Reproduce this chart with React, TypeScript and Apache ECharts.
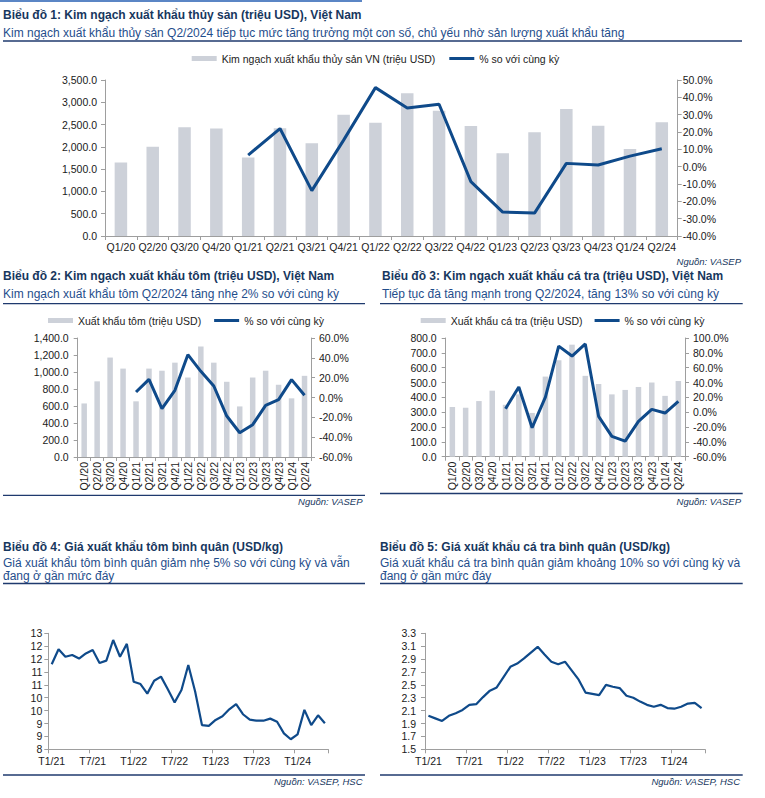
import React, { useEffect, useRef } from "react";
import * as echarts from "echarts";

const FONT = "'Liberation Sans', Arial, Helvetica, sans-serif";

const quarters = ["Q1/20", "Q2/20", "Q3/20", "Q4/20", "Q1/21", "Q2/21", "Q3/21", "Q4/21", "Q1/22", "Q2/22", "Q3/22", "Q4/22", "Q1/23", "Q2/23", "Q3/23", "Q4/23", "Q1/24", "Q2/24"];

const seafoodExport = [1650, 2000, 2440, 2410, 1760, 2420, 2080, 2720, 2540, 3200, 2810, 2470, 1855, 2326, 2849, 2475, 1952, 2551];
const seafoodYoY = [null, null, null, null, 6.7, 22.0, -13.8, 15.3, 45.6, 33.9, 36.0, -8.6, -26.2, -26.8, 1.9, 1.0, 6.1, 10.3];

const shrimpExport = [630, 890, 1170, 1040, 655, 1040, 1015, 1110, 935, 1300, 1110, 885, 595, 935, 1015, 850, 690, 955];
const shrimpYoY = [null, null, null, null, 5.5, 18.3, -11.3, 7.2, 43.2, 26.4, 11.6, -18.7, -35.5, -27.4, -7.9, -2.2, 18.0, 2.2];

const pangasiusExport = [335, 330, 375, 445, 350, 420, 295, 540, 650, 755, 545, 490, 420, 450, 470, 500, 410, 510];
const pangasiusYoY = [null, null, null, null, 4.7, 34.0, -21.0, 20.4, 89.0, 75.7, 92.0, -5.6, -32.6, -38.9, -12.4, 3.8, -1.1, 14.6];

const months = [
  "T1/21", "T2/21", "T3/21", "T4/21", "T5/21", "T6/21", "T7/21", "T8/21", "T9/21", "T10/21", "T11/21", "T12/21",
  "T1/22", "T2/22", "T3/22", "T4/22", "T5/22", "T6/22", "T7/22", "T8/22", "T9/22", "T10/22", "T11/22", "T12/22",
  "T1/23", "T2/23", "T3/23", "T4/23", "T5/23", "T6/23", "T7/23", "T8/23", "T9/23", "T10/23", "T11/23", "T12/23",
  "T1/24", "T2/24", "T3/24", "T4/24", "T5/24",
];

const shrimpPrice = [11.30, 11.88, 11.59, 11.66, 11.52, 11.72, 11.85, 11.35, 11.44, 12.24, 11.59, 12.09, 10.62, 10.53, 10.16, 10.66, 10.82, 10.33, 9.82, 10.30, 11.27, 10.24, 8.94, 8.91, 9.14, 9.28, 9.55, 9.75, 9.36, 9.15, 9.11, 9.11, 9.19, 9.07, 8.62, 8.39, 8.58, 9.53, 8.94, 9.32, 9.01];

const pangasiusPrice = [2.02, 1.98, 1.94, 2.02, 2.06, 2.11, 2.19, 2.20, 2.31, 2.41, 2.46, 2.62, 2.78, 2.83, 2.91, 3.00, 3.09, 2.97, 2.86, 2.82, 2.86, 2.72, 2.58, 2.38, 2.36, 2.34, 2.50, 2.47, 2.45, 2.33, 2.30, 2.24, 2.19, 2.16, 2.19, 2.14, 2.13, 2.16, 2.21, 2.22, 2.14];

const BAR = "#CDD1D9";
const LINE = "#0F4A8A";
const TITLE = "#17375E";
const SUB = "#1F4E8C";
const RULE = "#1F3A6E";
const AXIS = "#9E9E9E";
const LABEL = "#1A1A1A";

const YOY = "% so với cùng kỳ";
const L1 = "Kim ngạch xuất khẩu thủy sản VN (triệu USD)";
const L2 = "Xuất khẩu tôm (triệu USD)";
const L3 = "Xuất khẩu cá tra (triệu USD)";

const txt = (x: number, y: number, text: string, size: number, color: string, weight = "normal", fstyle = "normal", align = "left") => ({
  type: "text",
  x,
  y,
  silent: true,
  style: {
    text,
    fill: color,
    fontSize: size,
    fontWeight: weight,
    fontStyle: fstyle,
    fontFamily: FONT,
    align,
    textAlign: align,
    verticalAlign: "middle",
    textVerticalAlign: "middle",
  },
});

const rule = (x1: number, x2: number, y: number) => ({
  type: "line",
  silent: true,
  shape: { x1, y1: y, x2, y2: y },
  style: { stroke: RULE, lineWidth: 1.3 },
});

const axisLine = { show: true, lineStyle: { color: AXIS, width: 1 } };
const axisTick = { show: true, length: 4, lineStyle: { color: AXIS, width: 1 } };
const lbl = (extra: any = {}) => ({ color: LABEL, fontSize: 10.5, fontFamily: FONT, ...extra });

const thousands = (v: number) => v.toLocaleString("en-US", { minimumFractionDigits: 1, maximumFractionDigits: 1 });
const pct = (v: number) => v.toFixed(1) + "%";

const catX = (gridIndex: number, data: string[], rotate: number) => ({
  type: "category",
  gridIndex,
  data,
  boundaryGap: true,
  axisLine,
  axisTick: { ...axisTick },
  axisLabel: lbl({ interval: 0, rotate, margin: 5 }),
  splitLine: { show: false },
});

const valY = (gridIndex: number, position: string, min: number, max: number, interval: number, fmt: (v: number) => string, margin: number) => ({
  type: "value",
  gridIndex,
  position,
  min,
  max,
  interval,
  axisLine,
  axisTick,
  splitLine: { show: false },
  axisLabel: lbl({ formatter: fmt, margin }),
});

const LINE_ICON = "path://M0 0H25V3H0Z";

const legend = (left: number, top: number, data: string[], gap: number) => ({
  left,
  top,
  padding: 0,
  itemGap: gap,
  itemWidth: 25,
  itemHeight: 5,
  selectedMode: false,
  symbolKeepAspect: true,
  textStyle: { color: "#222", fontSize: 10.5, fontFamily: FONT },
  data: data.map((n) => (n === YOY ? { name: n, icon: LINE_ICON } : { name: n, icon: "rect" })),
});

const option: any = {
  animation: false,
  backgroundColor: "#ffffff",
  textStyle: { fontFamily: FONT },
  grid: [
    { left: 105, top: 80, width: 572.7, height: 156 },
    { left: 77.7, top: 338, width: 233.3, height: 119 },
    { left: 445.7, top: 338, width: 239.3, height: 118.7 },
    { left: 48.3, top: 633.3, width: 280, height: 116 },
    { left: 425, top: 633.3, width: 280, height: 116 },
  ],
  legend: [
    legend(191.7, 53, [L1, YOY], 14),
    legend(48, 315, [L2, YOY], 13),
    legend(420.7, 315, [L3, YOY], 12),
  ],
  xAxis: [
    catX(0, quarters, 0),
    catX(1, quarters, 90),
    catX(2, quarters, 90),
    {
      ...catX(3, months, 0),
      axisTick: { ...axisTick, interval: 5 },
      axisLabel: lbl({ interval: 5, margin: 6 }),
    },
    {
      ...catX(4, months, 0),
      axisTick: { ...axisTick, interval: 5 },
      axisLabel: lbl({ interval: 5, margin: 6 }),
    },
  ],
  yAxis: [
    valY(0, "left", 0, 3500, 500, thousands, 8),
    valY(0, "right", -40, 50, 10, pct, 5),
    valY(1, "left", 0, 1400, 200, thousands, 9),
    valY(1, "right", -60, 60, 20, pct, 8),
    valY(2, "left", 0, 800, 100, thousands, 9),
    valY(2, "right", -60, 100, 20, pct, 8),
    valY(3, "left", 8, 12.5, 0.5, (v: number) => String(Math.round(v)), 6),
    valY(4, "left", 1.5, 3.3, 0.2, (v: number) => v.toFixed(1), 9),
  ],
  series: [
    { name: L1, type: "bar", xAxisIndex: 0, yAxisIndex: 0, data: seafoodExport, barWidth: 12.5, itemStyle: { color: BAR } },
    { name: YOY, type: "line", xAxisIndex: 0, yAxisIndex: 1, data: seafoodYoY, symbol: "none", lineStyle: { color: LINE, width: 3 }, itemStyle: { color: LINE } },
    { name: L2, type: "bar", xAxisIndex: 1, yAxisIndex: 2, data: shrimpExport, barWidth: 5.5, itemStyle: { color: BAR } },
    { name: YOY, type: "line", xAxisIndex: 1, yAxisIndex: 3, data: shrimpYoY, symbol: "none", lineStyle: { color: LINE, width: 3 }, itemStyle: { color: LINE } },
    { name: L3, type: "bar", xAxisIndex: 2, yAxisIndex: 4, data: pangasiusExport, barWidth: 5.5, itemStyle: { color: BAR } },
    { name: YOY, type: "line", xAxisIndex: 2, yAxisIndex: 5, data: pangasiusYoY, symbol: "none", lineStyle: { color: LINE, width: 3 }, itemStyle: { color: LINE } },
    { name: "Giá tôm", type: "line", xAxisIndex: 3, yAxisIndex: 6, data: shrimpPrice, symbol: "none", lineStyle: { color: LINE, width: 2.2 }, itemStyle: { color: LINE } },
    { name: "Giá cá tra", type: "line", xAxisIndex: 4, yAxisIndex: 7, data: pangasiusPrice, symbol: "none", lineStyle: { color: LINE, width: 2.2 }, itemStyle: { color: LINE } },
  ],
  graphic: [
    {
      type: "group",
      silent: true,
      children: [
        { type: "rect", silent: true, shape: { x: 0, y: 0, width: 362, height: 2 }, style: { fill: "#5B86C5" } },
        txt(3, 14.5, "Biểu đồ 1: Kim ngạch xuất khẩu thủy sản (triệu USD), Việt Nam", 12, TITLE, "bold"),
        txt(3, 32.5, "Kim ngạch xuất khẩu thủy sản Q2/2024 tiếp tục mức tăng trưởng một con số, chủ yếu nhờ sản lượng xuất khẩu tăng", 12, SUB),
        rule(3, 742, 41),
        txt(741, 261.5, "Nguồn: VASEP", 9.5, TITLE, "normal", "italic", "right"),

        txt(3, 276, "Biểu đồ 2: Kim ngạch xuất khẩu tôm (triệu USD), Việt Nam", 12, TITLE, "bold"),
        txt(3, 294, "Kim ngạch xuất khẩu tôm Q2/2024 tăng nhẹ 2% so với cùng kỳ", 12, SUB),
        rule(3, 365, 303.7),
        rule(3, 365, 495.3),
        txt(362.5, 501.5, "Nguồn: VASEP", 9.5, TITLE, "normal", "italic", "right"),

        txt(382, 276, "Biểu đồ 3: Kim ngạch xuất khẩu cá tra (triệu USD), Việt Nam", 12, TITLE, "bold"),
        txt(382, 294, "Tiếp tục đà tăng mạnh trong Q2/2024, tăng 13% so với cùng kỳ", 12, SUB),
        rule(380, 742.7, 303.7),
        rule(380, 742.7, 493.5),
        txt(741, 501.5, "Nguồn: VASEP", 9.5, TITLE, "normal", "italic", "right"),

        txt(3, 546.7, "Biểu đồ 4: Giá xuất khẩu tôm bình quân (USD/kg)", 12, TITLE, "bold"),
        txt(3, 562.5, "Giá xuất khẩu tôm bình quân giảm nhẹ 5% so với cùng kỳ và vẫn", 12, SUB),
        txt(3, 576, "đang ở gần mức đáy", 12, SUB),
        rule(3, 365, 583.5),
        rule(3, 365, 775),
        txt(362.5, 781.5, "Nguồn: VASEP, HSC", 9.5, TITLE, "normal", "italic", "right"),

        txt(380, 546.7, "Biểu đồ 5: Giá xuất khẩu cá tra bình quân (USD/kg)", 12, TITLE, "bold"),
        txt(380, 562.5, "Giá xuất khẩu cá tra bình quân giảm khoảng 10% so với cùng kỳ và", 12, SUB),
        txt(380, 576, "đang ở gần mức đáy", 12, SUB),
        rule(380, 742.7, 583.5),
        rule(380, 742.7, 775),
        txt(740, 781.5, "Nguồn: VASEP, HSC", 9.5, TITLE, "normal", "italic", "right"),
      ],
    },
  ],
};

export default function App() {
  const ref = useRef<HTMLDivElement>(null);
  useEffect(() => {
    document.body.style.margin = "0";
    const chart = echarts.init(ref.current as HTMLDivElement, null, { renderer: "svg" });
    chart.setOption(option);
    return () => chart.dispose();
  }, []);
  return <div ref={ref} style={{ width: 765, height: 798 }} />;
}
